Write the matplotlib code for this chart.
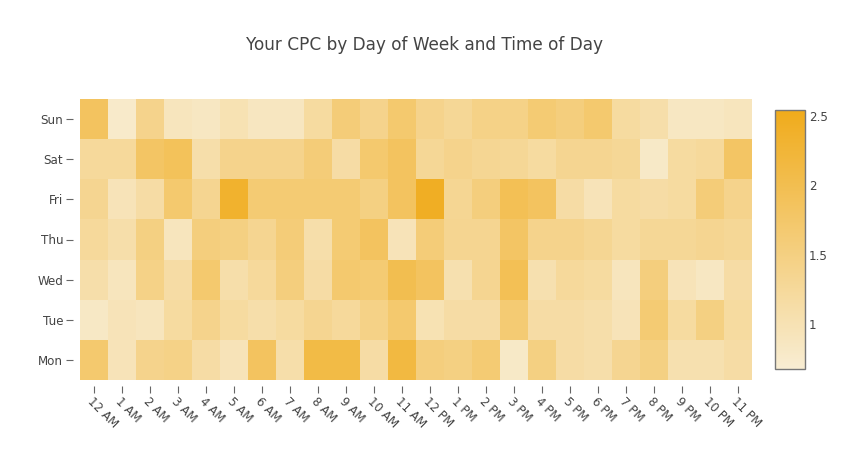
import matplotlib
matplotlib.use("Agg")
import matplotlib.pyplot as plt
import numpy as np
from matplotlib.colors import LinearSegmentedColormap

days = ["Mon", "Tue", "Wed", "Thu", "Fri", "Sat", "Sun"]
hours = ["12 AM", "1 AM", "2 AM", "3 AM", "4 AM", "5 AM", "6 AM", "7 AM", "8 AM", "9 AM", "10 AM", "11 AM",
         "12 PM", "1 PM", "2 PM", "3 PM", "4 PM", "5 PM", "6 PM", "7 PM", "8 PM", "9 PM", "10 PM", "11 PM"]

cpc_mon = [1.7, 0.95, 1.4, 1.45, 1.15, 0.95, 1.85, 1.1, 2.1, 2.1, 1.15, 2.15,
           1.55, 1.5, 1.65, 0.8, 1.5, 1.15, 1.1, 1.35, 1.5, 1.05, 1.05, 1.15]
cpc_tue = [0.82, 0.95, 0.9, 1.2, 1.4, 1.2, 1.1, 1.2, 1.35, 1.25, 1.45, 1.7,
           1.0, 1.15, 1.15, 1.65, 1.15, 1.15, 1.1, 0.95, 1.65, 1.2, 1.5, 1.2]
cpc_wed = [1.1, 0.9, 1.45, 1.15, 1.7, 1.1, 1.25, 1.55, 1.15, 1.7, 1.65, 2.0,
           1.85, 1.05, 1.35, 1.95, 1.05, 1.25, 1.2, 0.9, 1.55, 0.95, 0.85, 1.15]
cpc_thu = [1.25, 1.1, 1.5, 0.9, 1.55, 1.5, 1.35, 1.6, 1.1, 1.65, 1.85, 0.95,
           1.6, 1.35, 1.35, 1.8, 1.4, 1.4, 1.33, 1.2, 1.3, 1.3, 1.35, 1.3]
cpc_fri = [1.35, 0.95, 1.15, 1.7, 1.35, 2.35, 1.65, 1.65, 1.65, 1.65, 1.5, 1.85,
           2.45, 1.33, 1.55, 1.95, 1.85, 1.15, 0.95, 1.2, 1.15, 1.2, 1.6, 1.4]
cpc_sat = [1.25, 1.25, 1.8, 1.9, 1.1, 1.4, 1.4, 1.4, 1.6, 1.15, 1.7, 1.85,
           1.3, 1.4, 1.33, 1.3, 1.2, 1.35, 1.35, 1.3, 0.8, 1.2, 1.25, 1.8]
cpc_sun = [1.85, 0.78, 1.4, 0.9, 0.85, 1.0, 0.88, 0.88, 1.2, 1.6, 1.4, 1.7,
           1.4, 1.3, 1.45, 1.45, 1.65, 1.55, 1.7, 1.2, 1.1, 0.85, 0.85, 0.9]

z = np.array([cpc_mon, cpc_tue, cpc_wed, cpc_thu, cpc_fri, cpc_sat, cpc_sun])
zmin, zmax = 0.68, 2.54

plt.rcParams['font.family'] = ['DejaVu Sans']
cmap = LinearSegmentedColormap.from_list("cpc", ["#F8EDD3", "#F0AB1B"])

W, H = 848, 450
fig = plt.figure(figsize=(W / 100, H / 100), dpi=100)
ax = fig.add_axes([80 / W, 1 - 380 / H, 672 / W, 281 / H])
mesh = ax.pcolormesh(np.arange(25) - 0.5, np.arange(8) - 0.5, z, cmap=cmap, vmin=zmin, vmax=zmax)
for s in ax.spines.values():
    s.set_visible(False)
ax.spines['bottom'].set_position(('outward', 4))
ax.spines['left'].set_position(('outward', 5))
ax.set_xlim(-0.5, 23.5)
ax.set_ylim(-0.5, 6.5)
ax.set_xticks(np.arange(24))
ax.set_yticks(np.arange(7))
ax.set_yticklabels(days)
ax.set_xticklabels(hours, rotation=-45, ha='left', va='top', rotation_mode='anchor')
ax.tick_params(axis='both', colors='#444444', labelsize=8.6, length=5, width=0.8)
ax.tick_params(axis='both', color='#666666')
ax.tick_params(axis='x', pad=2)
ax.tick_params(axis='y', pad=2)

fig.text(424 / W, 1 - 45 / H, "Your CPC by Day of Week and Time of Day", ha='center', va='center',
         fontsize=12.2, color='#444444')

cax = fig.add_axes([775 / W, 1 - 369 / H, 30 / W, 259 / H])
cb = fig.colorbar(mesh, cax=cax)
cb.set_ticks([1, 1.5, 2, 2.5])
cb.ax.set_yticklabels(["1", "1.5", "2", "2.5"])
cb.ax.tick_params(length=0, labelsize=8.6, colors='#444444', pad=3)
cb.outline.set_edgecolor('#777777')
cb.outline.set_linewidth(1)

fig.savefig("out.png", dpi=100)
